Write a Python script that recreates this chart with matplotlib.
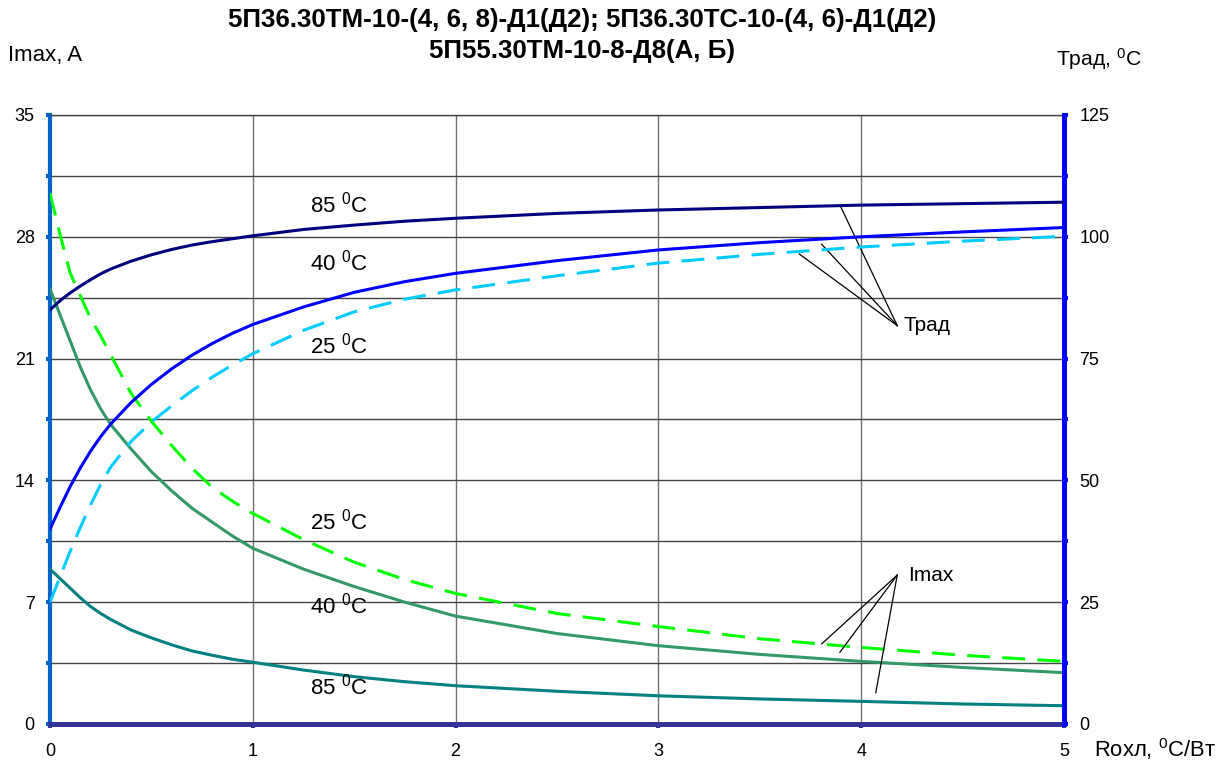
import matplotlib
matplotlib.use('Agg')
import matplotlib.pyplot as plt
from matplotlib.ticker import MultipleLocator
import numpy as np

plt.rcParams['font.family'] = ['Liberation Sans', 'DejaVu Sans']
plt.rcParams['mathtext.fontset'] = 'custom'
plt.rcParams['mathtext.rm'] = 'Liberation Sans'
plt.rcParams['mathtext.it'] = 'Liberation Sans:italic'
plt.rcParams['mathtext.bf'] = 'Liberation Sans:bold'

# Thermal resistance of the cooler, degC/W
r_cool = [0, 0.05, 0.1, 0.15, 0.2, 0.25, 0.3, 0.4, 0.5, 0.6, 0.7, 0.8, 0.9, 1.0,
          1.25, 1.5, 1.75, 2.0, 2.5, 3.0, 3.5, 4.0, 4.5, 5.0]

# Max current, A (left axis), for ambient 25 / 40 / 85 degC
imax_25 = [30.5, 28.1, 25.9, 24.6, 23.3, 22.3, 21.2, 19.0, 17.4, 16.0, 14.7, 13.6, 12.8, 12.1,
           10.6, 9.3, 8.3, 7.5, 6.35, 5.6, 4.9, 4.4, 3.95, 3.6]
imax_40 = [25.0, 23.5, 22.0, 20.5, 19.2, 18.1, 17.2, 15.8, 14.5, 13.4, 12.4, 11.6, 10.8, 10.1,
           8.9, 7.9, 7.0, 6.2, 5.2, 4.5, 4.0, 3.6, 3.25, 2.95]
imax_85 = [8.9, 8.35, 7.8, 7.25, 6.75, 6.35, 6.0, 5.4, 4.95, 4.55, 4.2, 3.95, 3.72, 3.55,
           3.1, 2.72, 2.43, 2.2, 1.88, 1.62, 1.44, 1.3, 1.15, 1.05]

# Radiator temperature, degC (right axis)
trad_25 = [25.0, 30.3, 35.5, 40.4, 45.0, 49.2, 52.8, 58.0, 62.0, 65.3, 68.4, 71.2, 73.7, 76.0,
           80.8, 84.6, 87.2, 89.1, 92.0, 94.6, 96.4, 97.9, 99.1, 100.1]
trad_40 = [40.0, 44.5, 48.8, 52.6, 56.0, 59.0, 61.6, 66.0, 69.7, 72.9, 75.7, 78.1, 80.2, 82.0,
           85.6, 88.6, 90.8, 92.5, 95.1, 97.3, 98.8, 100.0, 101.0, 101.9]
trad_85 = [85.0, 86.9, 88.5, 89.9, 91.2, 92.4, 93.4, 95.0, 96.3, 97.4, 98.3, 99.0, 99.6, 100.2,
           101.5, 102.4, 103.2, 103.8, 104.8, 105.5, 106.0, 106.5, 106.8, 107.1]

fig = plt.figure(figsize=(12.29, 7.65), dpi=100)
ax = fig.add_axes([0.0407, 0.0536, 0.8250, 0.7961])
ax2 = ax.twinx()

dash = (0, (7.5, 4))
lw = 2.2

# left axis: Imax
ax.plot(r_cool, imax_25, color='#00ff00', lw=lw, ls=dash, zorder=3)
ax.plot(r_cool, imax_40, color='#339966', lw=lw, zorder=3)
ax.plot(r_cool, imax_85, color='#008080', lw=lw, zorder=3)

# right axis: Trad
ax2.plot(r_cool, trad_25, color='#00ccff', lw=lw, ls=dash, zorder=3)
ax2.plot(r_cool, trad_40, color='#0000ff', lw=lw, zorder=3)
ax2.plot(r_cool, trad_85, color='#000080', lw=lw, zorder=3)

ax.set_xlim(0, 5)
ax.set_ylim(0, 35)
ax2.set_ylim(0, 125)

ax.xaxis.set_major_locator(MultipleLocator(1))
ax.yaxis.set_major_locator(MultipleLocator(7))
ax.yaxis.set_minor_locator(MultipleLocator(3.5))
ax2.yaxis.set_major_locator(MultipleLocator(25))
ax2.yaxis.set_minor_locator(MultipleLocator(12.5))

ax.grid(True, which='both', axis='y', color='#454545', lw=1.0, zorder=1)
ax.grid(True, which='major', axis='x', color='#707070', lw=1.0, zorder=1)
ax.set_axisbelow(True)

# spines
ax.spines['left'].set_color('#0066cc')
ax.spines['left'].set_linewidth(3.0)
ax.spines['bottom'].set_color('#333399')
ax.spines['bottom'].set_linewidth(3.6)
ax.spines['top'].set_color('#454545')
ax.spines['top'].set_linewidth(1.0)
ax.spines['right'].set_visible(False)
for s in ['left', 'top', 'bottom']:
    ax2.spines[s].set_visible(False)
ax2.spines['right'].set_color('#0000ff')
ax2.spines['right'].set_linewidth(3.6)

ax.tick_params(axis='y', which='both', direction='out', length=3, width=3,
               color='#0066cc', labelsize=13, pad=8)
ax.tick_params(axis='x', which='major', direction='out', length=3, width=3,
               color='#333399', labelsize=13, pad=11)
ax2.tick_params(axis='y', which='both', direction='out', length=3, width=3,
                color='#0000ff', labelsize=13, pad=8)
ax.set_yticks([0, 7, 14, 21, 28, 35])
ax.set_yticklabels(['0', '7', '14', '21', '28', '35'])

# curve labels
lbl = dict(fontsize=16, ha='left', va='baseline', zorder=5)
ax.text(1.28, 29.39, r'85 $^{0}$C', **lbl)
ax.text(1.28, 26.09, r'40 $^{0}$C', **lbl)
ax.text(1.28, 21.3, r'25 $^{0}$C', **lbl)
ax.text(1.28, 11.15, r'25 $^{0}$C', **lbl)
ax.text(1.28, 6.36, r'40 $^{0}$C', **lbl)
ax.text(1.28, 1.67, r'85 $^{0}$C', **lbl)

# leader lines
trad_apex = (4.178, 22.89)
trad_ends = [(3.895, 29.83), (3.805, 27.57), (3.695, 27.01)]
imax_apex = (4.178, 8.56)
imax_ends = [(3.805, 4.6), (3.895, 4.12), (4.072, 1.8)]
for (ex, ey) in trad_ends:
    ax.plot([trad_apex[0], ex], [trad_apex[1], ey], color='black', lw=0.9, zorder=4)
for (ex, ey) in imax_ends:
    ax.plot([imax_apex[0], ex], [imax_apex[1], ey], color='black', lw=0.9, zorder=4)
ax.text(4.21, trad_apex[1], 'Трад', fontsize=15, ha='left', va='center')
ax.text(4.23, imax_apex[1], 'Imax', fontsize=15, ha='left', va='center')

# titles and axis names
fig.text(582 / 1229, 1 - 27 / 765, '5П36.30ТМ-10-(4, 6, 8)-Д1(Д2); 5П36.30ТС-10-(4, 6)-Д1(Д2)',
         fontsize=18.6, fontweight='bold', ha='center', va='baseline')
fig.text(582 / 1229, 1 - 58 / 765, '5П55.30ТМ-10-8-Д8(А, Б)',
         fontsize=18.6, fontweight='bold', ha='center', va='baseline')
fig.text(8 / 1229, 1 - 60.7 / 765, 'Imax, A', fontsize=16, ha='left', va='baseline')
fig.text(1056 / 1229, 1 - 65.7 / 765, r'Трад, $^{0}$C', fontsize=15.2, ha='left', va='baseline')
fig.text(1094 / 1229, 1 - 757.3 / 765, r'Rохл, $^{0}$C/Вт', fontsize=15.8, ha='left', va='baseline')

fig.savefig('out.png', dpi=100)
